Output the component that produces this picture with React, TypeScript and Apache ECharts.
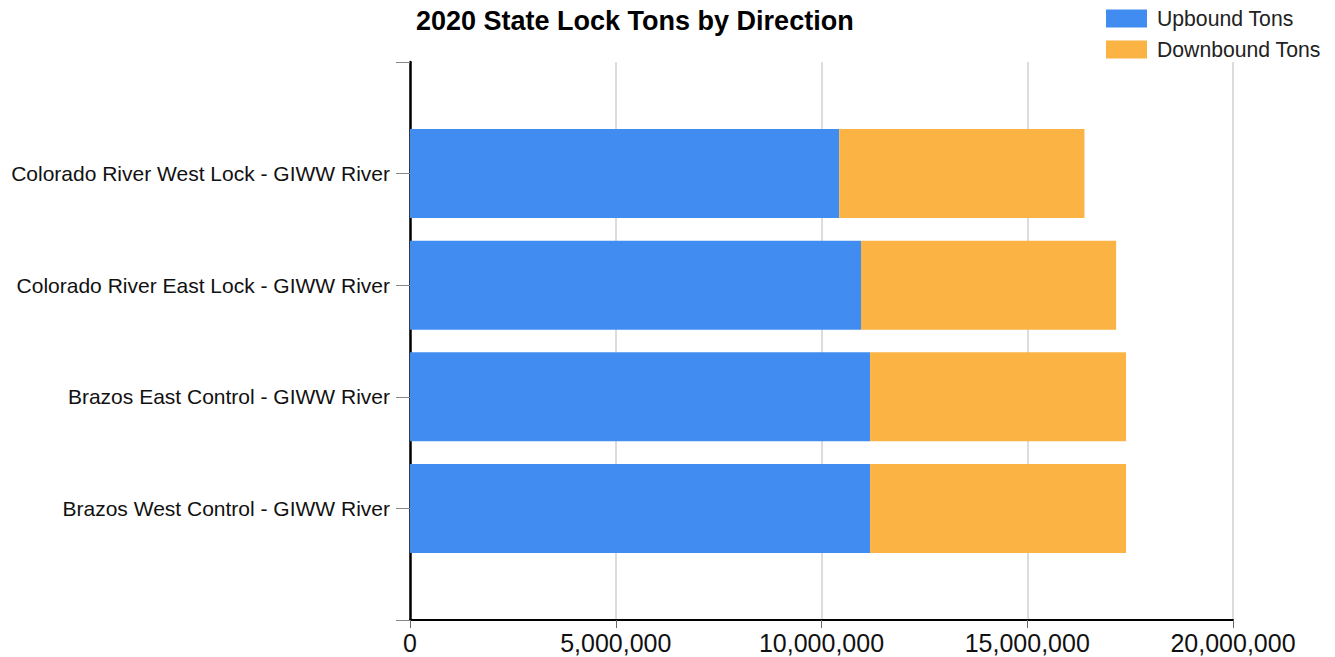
import React, { useEffect, useRef } from "react";
import * as echarts from "echarts";

const categories = [
  "Colorado River West Lock - GIWW River",
  "Colorado River East Lock - GIWW River",
  "Brazos East Control - GIWW River",
  "Brazos West Control - GIWW River",
];
const upboundTons = [10430000, 10960000, 11180000, 11180000];
const downboundTons = [5960000, 6200000, 6220000, 6220000];
const xTicks = [0, 5000000, 10000000, 15000000, 20000000];

const FONT = "'Liberation Sans', Arial, sans-serif";

export default function App() {
  const ref = useRef<HTMLDivElement>(null);
  useEffect(() => {
    if (!ref.current) return;
    const chart = echarts.init(ref.current, undefined, { renderer: "svg" });
    const cats = ["", ...categories, ""];
    const pad = (arr: number[]) => ["-", ...arr, "-"];
    chart.setOption({
      animation: false,
      textStyle: { fontFamily: FONT },
      title: {
        text: "2020 State Lock Tons by Direction",
        left: 411,
        top: 2,
        textStyle: { fontFamily: FONT, fontSize: 27, fontWeight: "bold", color: "#000" },
      },
      legend: {
        orient: "vertical",
        left: 1101,
        top: 3,
        itemWidth: 41,
        itemHeight: 18,
        itemGap: 10,
        icon: "rect",
        textStyle: { fontFamily: FONT, fontSize: 21.2, lineHeight: 18, color: "#222", padding: [0, 0, 0, 5] },
        data: ["Upbound Tons", "Downbound Tons"],
      },
      grid: { left: 410, right: 102, top: 62, bottom: 37, containLabel: false },
      xAxis: {
        type: "value",
        min: xTicks[0],
        max: xTicks[xTicks.length - 1],
        interval: 5000000,
        axisLine: { show: true, lineStyle: { color: "#000", width: 2 } },
        axisTick: { show: true, length: 8, lineStyle: { color: "#666", width: 1 } },
        splitLine: { show: true, lineStyle: { color: "#dcdcdc", width: 2 } },
        axisLabel: {
          fontFamily: FONT,
          fontSize: 25,
          color: "#111",
          margin: 10,
          formatter: (v: number) => v.toLocaleString("en-US"),
        },
      },
      yAxis: {
        type: "category",
        data: cats,
        inverse: true,
        boundaryGap: false,
        axisLine: { show: true, lineStyle: { color: "#000", width: 2.5 } },
        axisTick: { show: true, length: 14, interval: 0, lineStyle: { color: "#888", width: 1 } },
        splitLine: { show: false },
        axisLabel: {
          fontFamily: FONT,
          fontSize: 21,
          color: "#111",
          margin: 20,
          interval: 0,
        },
      },
      series: [
        {
          name: "Upbound Tons",
          type: "bar",
          stack: "total",
          barWidth: 89,
          itemStyle: { color: "#418cf0" },
          data: pad(upboundTons),
        },
        {
          name: "Downbound Tons",
          type: "bar",
          stack: "total",
          barWidth: 89,
          itemStyle: { color: "#fbb443" },
          data: pad(downboundTons),
        },
      ],
    });
    return () => chart.dispose();
  }, []);
  return <div ref={ref} style={{ width: 1335, height: 657, position: "absolute", left: 0, top: 0 }} />;
}
